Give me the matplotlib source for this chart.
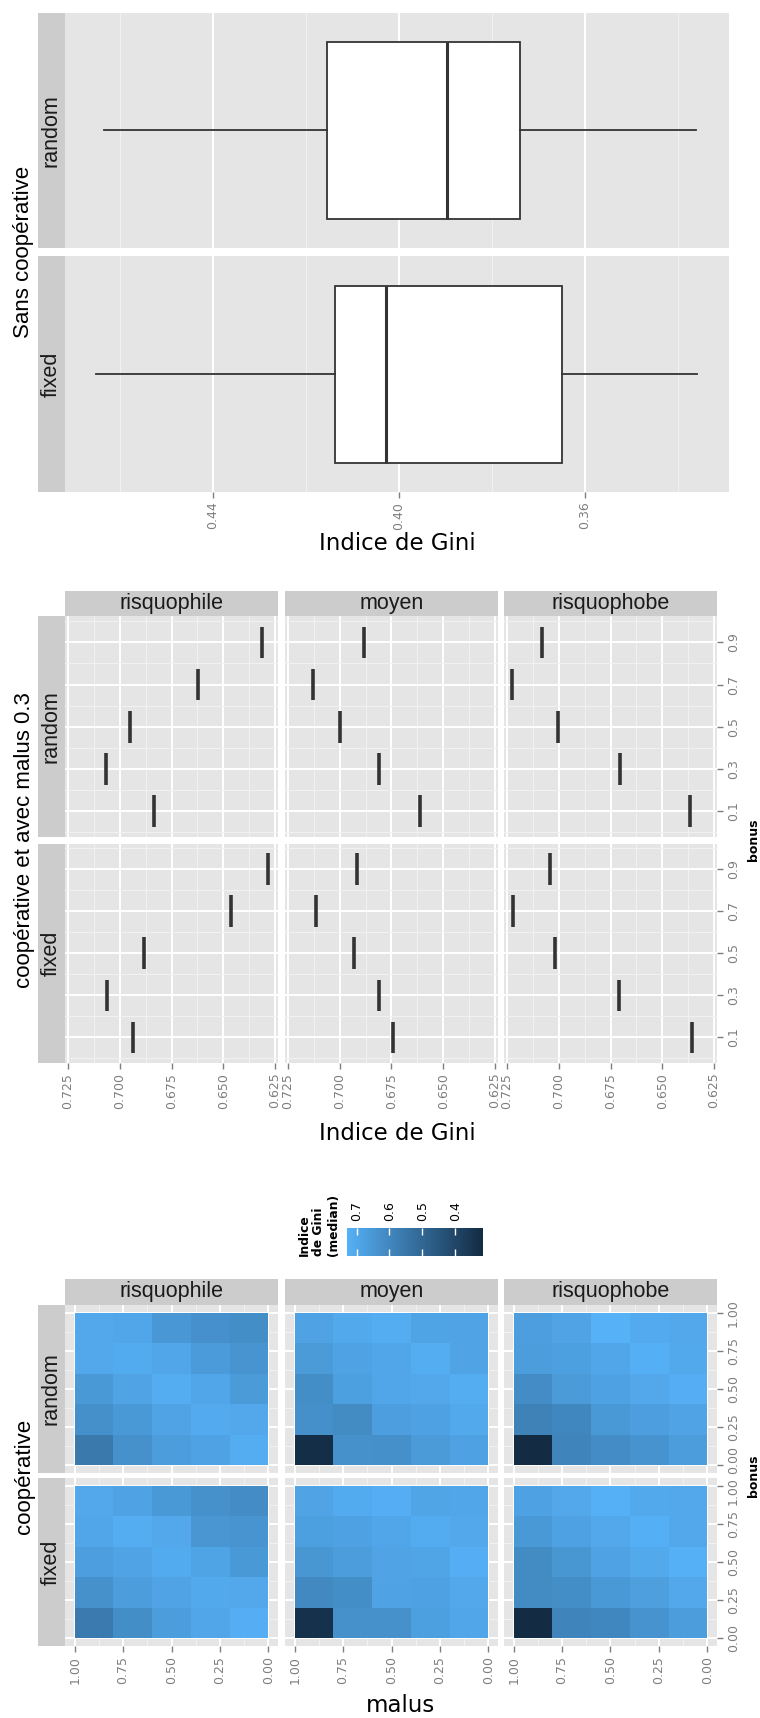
import numpy as np
import matplotlib
matplotlib.use("Agg")
import matplotlib.pyplot as plt
from matplotlib.colors import LinearSegmentedColormap
from matplotlib.ticker import FormatStrFormatter
from matplotlib.transforms import ScaledTranslation

W, H = 760, 1718

# ---- données ----
coop_modes = ['random', 'fixed']
profiles = ['risquophile', 'moyen', 'risquophobe']
bonus_levels = [0.1, 0.3, 0.5, 0.7, 0.9]
malus_levels = [0.1, 0.3, 0.5, 0.7, 0.9]

# sans coopérative : whislo, q1, med, q3, whishi
box_random = [0.3362, 0.3740, 0.3897, 0.4154, 0.4634]
box_fixed = [0.3358, 0.3650, 0.4027, 0.4138, 0.4652]

# coopérative, malus 0.3 : indice de Gini par bonus
gini_random_risquophile = [0.6835, 0.7066, 0.6953, 0.6623, 0.6311]
gini_random_moyen = [0.6610, 0.6810, 0.7000, 0.7131, 0.6881]
gini_random_risquophobe = [0.6364, 0.6702, 0.7005, 0.7226, 0.7083]
gini_fixed_risquophile = [0.6936, 0.7064, 0.6882, 0.6462, 0.6285]
gini_fixed_moyen = [0.6743, 0.6810, 0.6931, 0.7117, 0.6917]
gini_fixed_risquophobe = [0.6357, 0.6710, 0.7019, 0.7221, 0.7043]

# médianes : lignes = bonus croissant, colonnes = malus croissant
heat_random_risquophile = [[0.715, 0.684, 0.665, 0.630, 0.555],
                           [0.700, 0.707, 0.690, 0.655, 0.625],
                           [0.660, 0.695, 0.715, 0.690, 0.655],
                           [0.640, 0.662, 0.695, 0.710, 0.700],
                           [0.620, 0.631, 0.650, 0.695, 0.700]]
heat_random_moyen = [[0.680, 0.661, 0.625, 0.630, 0.325],
                     [0.705, 0.681, 0.670, 0.610, 0.625],
                     [0.715, 0.700, 0.695, 0.675, 0.620],
                     [0.690, 0.713, 0.695, 0.685, 0.660],
                     [0.690, 0.688, 0.715, 0.705, 0.685]]
heat_random_risquophobe = [[0.665, 0.636, 0.615, 0.590, 0.316],
                           [0.690, 0.670, 0.655, 0.600, 0.585],
                           [0.720, 0.7005, 0.680, 0.660, 0.615],
                           [0.705, 0.7226, 0.695, 0.675, 0.665],
                           [0.700, 0.708, 0.729, 0.690, 0.670]]
heat_fixed_risquophile = [[0.720, 0.6936, 0.665, 0.620, 0.560],
                          [0.700, 0.7064, 0.690, 0.665, 0.630],
                          [0.655, 0.6882, 0.710, 0.690, 0.670],
                          [0.640, 0.6462, 0.700, 0.715, 0.695],
                          [0.615, 0.6285, 0.655, 0.685, 0.700]]
heat_fixed_moyen = [[0.695, 0.6743, 0.630, 0.630, 0.335],
                    [0.700, 0.681, 0.685, 0.620, 0.605],
                    [0.720, 0.6931, 0.690, 0.665, 0.645],
                    [0.700, 0.7117, 0.695, 0.680, 0.675],
                    [0.695, 0.6917, 0.720, 0.710, 0.690]]
heat_fixed_risquophobe = [[0.665, 0.6357, 0.600, 0.590, 0.316],
                          [0.700, 0.671, 0.655, 0.620, 0.610],
                          [0.725, 0.7019, 0.685, 0.645, 0.610],
                          [0.700, 0.7221, 0.700, 0.680, 0.655],
                          [0.700, 0.7043, 0.725, 0.700, 0.680]]

segments = {
    ('random', 'risquophile'): gini_random_risquophile,
    ('random', 'moyen'): gini_random_moyen,
    ('random', 'risquophobe'): gini_random_risquophobe,
    ('fixed', 'risquophile'): gini_fixed_risquophile,
    ('fixed', 'moyen'): gini_fixed_moyen,
    ('fixed', 'risquophobe'): gini_fixed_risquophobe,
}
heatmaps = {
    ('random', 'risquophile'): heat_random_risquophile,
    ('random', 'moyen'): heat_random_moyen,
    ('random', 'risquophobe'): heat_random_risquophobe,
    ('fixed', 'risquophile'): heat_fixed_risquophile,
    ('fixed', 'moyen'): heat_fixed_moyen,
    ('fixed', 'risquophobe'): heat_fixed_risquophobe,
}

plt.rcParams['font.family'] = 'DejaVu Sans'
STRIP_FONT = 'Liberation Sans'
GREY_TXT = '#7F7F7F'

fig = plt.figure(figsize=(W / 100, H / 100), dpi=100)


def px_axes(x0, y0, x1, y1):
    return fig.add_axes([x0 / W, 1 - y1 / H, (x1 - x0) / W, (y1 - y0) / H])


def strip(x0, y0, x1, y1, text, rotation=0):
    ax = px_axes(x0, y0, x1, y1)
    ax.set_facecolor('#CCCCCC')
    ax.set_xticks([])
    ax.set_yticks([])
    for s in ax.spines.values():
        s.set_visible(False)
    ax.text(0.5, 0.5, text, rotation=rotation, ha='center', va='center',
            transform=ax.transAxes, fontsize=15.5, family=STRIP_FONT, color='#1A1A1A')
    return ax


def style_panel(ax):
    ax.set_facecolor('#E5E5E5')
    for s in ax.spines.values():
        s.set_visible(False)
    ax.set_axisbelow(True)
    ax.grid(True, which='major', color='white', lw=1.4)
    ax.grid(True, which='minor', color='#F2F2F2', lw=0.7)
    ax.tick_params(which='major', length=4, width=1, color=GREY_TXT, pad=3,
                   labelsize=9, labelcolor=GREY_TXT)
    ax.tick_params(which='minor', length=0)


def fig_label(x, y, text, rotation=0, size=16.5, family='DejaVu Sans', **kw):
    fig.text(x / W, 1 - y / H, text, rotation=rotation, ha='center', va='center',
             fontsize=size, family=family, **kw)


# ---- partie 1 : sans coopérative ----
rows1 = [(12.6, 248), (256, 492)]
for (y0, y1), mode, b in zip(rows1, coop_modes, [box_random, box_fixed]):
    ax = px_axes(65, y0, 729, y1)
    style_panel(ax)
    ax.grid(False, axis='y')
    stats = dict(whislo=b[0], q1=b[1], med=b[2], q3=b[3], whishi=b[4])
    ax.bxp([stats], positions=[1], widths=0.9, orientation='horizontal',
           showcaps=False, showfliers=False, patch_artist=True, manage_ticks=False,
           boxprops=dict(facecolor='white', edgecolor='#333333', lw=1.3),
           medianprops=dict(color='#333333', lw=2.2),
           whiskerprops=dict(color='#333333', lw=1.3))
    ax.set_ylim(0.4, 1.6)
    ax.set_xlim(0.4718, 0.329)
    ax.set_xticks([0.44, 0.40, 0.36])
    ax.set_xticks([0.46, 0.42, 0.38, 0.34], minor=True)
    ax.xaxis.set_major_formatter(FormatStrFormatter('%.2f'))
    ax.set_yticks([])
    if mode == 'fixed':
        ax.tick_params(axis='x', labelrotation=90)
    else:
        ax.tick_params(axis='x', bottom=False, labelbottom=False)
    strip(38, y0, 65, y1, mode, rotation=90)

fig_label(24, 252, 'Sans coopérative', rotation=90, size=16, family=STRIP_FONT)
fig_label(397, 543, 'Indice de Gini')

# ---- partie 2 : coopérative, malus 0.3 ----
cols = [(65, 278), (285, 498), (504, 717)]
rows2 = [(616.5, 837), (843.5, 1063)]
bonus_arr = np.array(bonus_levels)
for j, (x0, x1) in enumerate(cols):
    strip(x0, 591, x1, 616.5, profiles[j])
    for i, (y0, y1) in enumerate(rows2):
        ax = px_axes(x0, y0, x1, y1)
        style_panel(ax)
        vals = segments[(coop_modes[i], profiles[j])]
        ax.vlines(vals, bonus_arr - 0.075, bonus_arr + 0.075, color='#333333', lw=2.6)
        ax.set_xlim(0.7265, 0.6235)
        ax.set_ylim(-0.0225, 1.0225)
        ax.set_xticks([0.725, 0.700, 0.675, 0.650, 0.625])
        ax.set_xticks([0.7125, 0.6875, 0.6625, 0.6375], minor=True)
        ax.xaxis.set_major_formatter(FormatStrFormatter('%.3f'))
        ax.set_yticks(bonus_levels)
        ax.set_yticks([0.0, 0.2, 0.4, 0.6, 0.8, 1.0], minor=True)
        ax.yaxis.tick_right()
        if j == 2:
            ax.tick_params(axis='y', labelrotation=90)
            for lab in ax.get_yticklabels():
                lab.set_va('center')
        else:
            ax.tick_params(axis='y', right=False, labelright=False)
        if i == 1:
            ax.tick_params(axis='x', labelrotation=90)
        else:
            ax.tick_params(axis='x', bottom=False, labelbottom=False)
for i, (y0, y1) in enumerate(rows2):
    strip(38, y0, 65, y1, coop_modes[i], rotation=90)

fig_label(25, 840, 'coopérative et avec malus 0.3', rotation=90, size=16, family=STRIP_FONT)
fig_label(753, 840, 'bonus', rotation=90, size=9, fontweight='bold')
fig_label(397, 1133, 'Indice de Gini')

# ---- partie 3 : heatmaps ----
cmap = LinearSegmentedColormap.from_list('gini', ['#132B43', '#56B1F7'])
all_vals = np.concatenate([np.ravel(h) for h in heatmaps.values()])
vmin, vmax = all_vals.min(), all_vals.max()

rows3 = [(1305, 1473), (1478, 1646)]
mesh = None
for j, (x0, x1) in enumerate(cols):
    strip(x0, 1279, x1, 1305, profiles[j])
    for i, (y0, y1) in enumerate(rows3):
        ax = px_axes(x0, y0, x1, y1)
        style_panel(ax)
        z = np.array(heatmaps[(coop_modes[i], profiles[j])])
        mesh = ax.pcolormesh(malus_levels, bonus_levels, z, cmap=cmap, vmin=vmin, vmax=vmax,
                             shading='nearest')
        ax.set_xlim(1.05, -0.05)
        ax.set_ylim(-0.05, 1.05)
        ticks = [0.0, 0.25, 0.5, 0.75, 1.0]
        minors = [0.125, 0.375, 0.625, 0.875]
        ax.set_xticks(ticks)
        ax.set_xticks(minors, minor=True)
        ax.set_yticks(ticks)
        ax.set_yticks(minors, minor=True)
        ax.xaxis.set_major_formatter(FormatStrFormatter('%.2f'))
        ax.yaxis.set_major_formatter(FormatStrFormatter('%.2f'))
        ax.yaxis.tick_right()
        if j == 2:
            ax.tick_params(axis='y', labelrotation=90)
            for lab in ax.get_yticklabels():
                lab.set_va('center')
            # 0.00 / 1.00 se touchent entre les deux lignes : on les écarte un peu
            ticks_r = ax.yaxis.get_major_ticks()
            if i == 0:
                lab = ticks_r[0].label2
                lab.set_transform(lab.get_transform() + ScaledTranslation(0, 0.05, fig.dpi_scale_trans))
            else:
                lab = ticks_r[-1].label2
                lab.set_transform(lab.get_transform() + ScaledTranslation(0, -0.05, fig.dpi_scale_trans))
        else:
            ax.tick_params(axis='y', right=False, labelright=False)
        if i == 1:
            ax.tick_params(axis='x', labelrotation=90)
        else:
            ax.tick_params(axis='x', bottom=False, labelbottom=False)
for i, (y0, y1) in enumerate(rows3):
    strip(38, y0, 65, y1, coop_modes[i], rotation=90)

# légende
cax = px_axes(347, 1228, 483, 1256)
cb = fig.colorbar(mesh, cax=cax, orientation='horizontal')
cb.outline.set_visible(False)
cax.invert_xaxis()
cb.set_ticks([0.7, 0.6, 0.5, 0.4])
cax.xaxis.set_major_formatter(FormatStrFormatter('%.1f'))
cax.tick_params(axis='x', which='both', top=True, bottom=True, direction='in', color='white',
                length=5, width=1, labeltop=True, labelbottom=False, labelrotation=90,
                labelsize=9, pad=5)
cax.minorticks_off()
fig.text(319 / W, 1 - 1256 / H, 'Indice\nde Gini\n(median)', rotation=90, ha='center',
         va='bottom', multialignment='left', fontsize=8.8, fontweight='bold', linespacing=1.15)

fig_label(25, 1476, 'coopérative', rotation=90, size=16, family=STRIP_FONT)
fig_label(753, 1476, 'bonus', rotation=90, size=9, fontweight='bold')
fig_label(401, 1705, 'malus')

fig.savefig('out.png', dpi=100)
